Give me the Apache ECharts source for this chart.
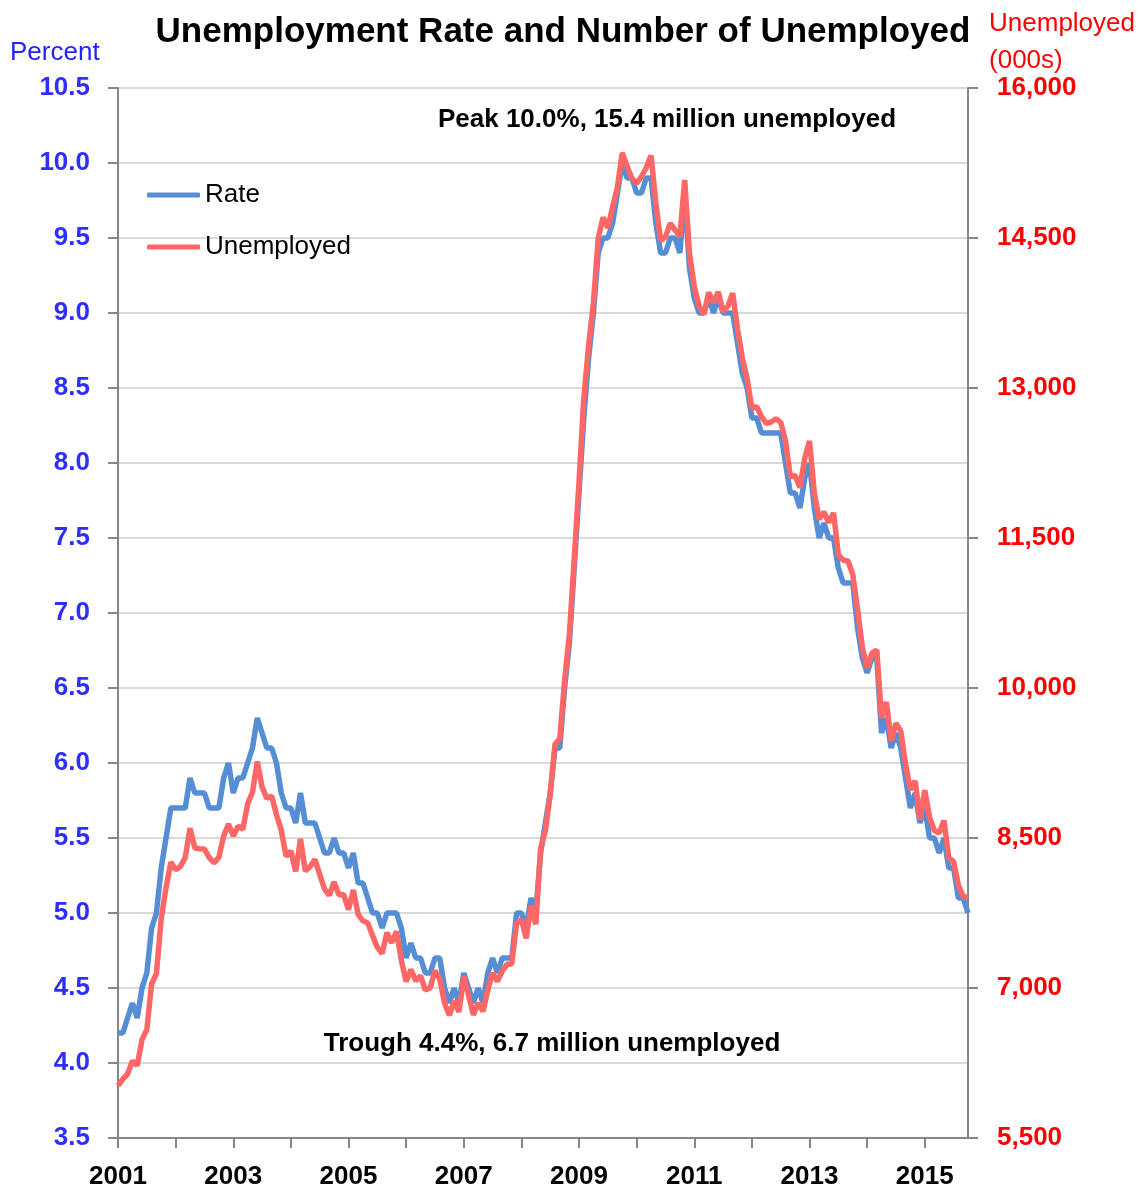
<!DOCTYPE html>
<html>
<head>
<meta charset="utf-8">
<title>Unemployment Rate and Number of Unemployed</title>
<script src="https://cdn.jsdelivr.net/npm/echarts@6/dist/echarts.min.js"></script>
<style>
  html, body { margin: 0; padding: 0; background: #fff; }
  #chart { width: 1139px; height: 1192px; }
</style>
</head>
<body>
<div id="chart"></div>
<script>
// monthly, Jan 2001 .. Oct 2015
const years = [2001, 2002, 2003, 2004, 2005, 2006, 2007, 2008, 2009, 2010, 2011, 2012, 2013, 2014, 2015];

// unemployment rate, percent
const rate = [
  4.2, 4.2, 4.3, 4.4, 4.3, 4.5, 4.6, 4.9, 5.0, 5.3, 5.5, 5.7,
  5.7, 5.7, 5.7, 5.9, 5.8, 5.8, 5.8, 5.7, 5.7, 5.7, 5.9, 6.0,
  5.8, 5.9, 5.9, 6.0, 6.1, 6.3, 6.2, 6.1, 6.1, 6.0, 5.8, 5.7,
  5.7, 5.6, 5.8, 5.6, 5.6, 5.6, 5.5, 5.4, 5.4, 5.5, 5.4, 5.4,
  5.3, 5.4, 5.2, 5.2, 5.1, 5.0, 5.0, 4.9, 5.0, 5.0, 5.0, 4.9,
  4.7, 4.8, 4.7, 4.7, 4.6, 4.6, 4.7, 4.7, 4.5, 4.4, 4.5, 4.4,
  4.6, 4.5, 4.4, 4.5, 4.4, 4.6, 4.7, 4.6, 4.7, 4.7, 4.7, 5.0,
  5.0, 4.9, 5.1, 5.0, 5.4, 5.6, 5.8, 6.1, 6.1, 6.5, 6.8, 7.3,
  7.8, 8.3, 8.7, 9.0, 9.4, 9.5, 9.5, 9.6, 9.8, 10.0, 9.9, 9.9,
  9.8, 9.8, 9.9, 9.9, 9.6, 9.4, 9.4, 9.5, 9.5, 9.4, 9.8, 9.3,
  9.1, 9.0, 9.0, 9.1, 9.0, 9.1, 9.0, 9.0, 9.0, 8.8, 8.6, 8.5,
  8.3, 8.3, 8.2, 8.2, 8.2, 8.2, 8.2, 8.0, 7.8, 7.8, 7.7, 7.9,
  8.0, 7.7, 7.5, 7.6, 7.5, 7.5, 7.3, 7.2, 7.2, 7.2, 6.9, 6.7,
  6.6, 6.7, 6.7, 6.2, 6.3, 6.1, 6.2, 6.1, 5.9, 5.7, 5.8, 5.6,
  5.7, 5.5, 5.5, 5.4, 5.5, 5.3, 5.3, 5.1, 5.1, 5.0
];

// number unemployed, thousands
const unemployed = [
  6023, 6089, 6141, 6271, 6226, 6484, 6583, 7042, 7142, 7694, 8003, 8258,
  8182, 8215, 8304, 8599, 8399, 8393, 8390, 8304, 8251, 8307, 8520, 8640,
  8520, 8618, 8588, 8842, 8957, 9266, 9011, 8896, 8921, 8732, 8576, 8317,
  8370, 8167, 8491, 8170, 8212, 8286, 8136, 7990, 7927, 8061, 7932, 7934,
  7784, 7980, 7737, 7672, 7651, 7524, 7406, 7345, 7553, 7453, 7566, 7279,
  7064, 7184, 7072, 7120, 6980, 7001, 7175, 7091, 6847, 6727, 6872, 6762,
  7116, 6927, 6731, 6850, 6766, 6979, 7149, 7067, 7170, 7237, 7240, 7645,
  7685, 7497, 7822, 7637, 8395, 8575, 8937, 9438, 9494, 10074, 10538, 11286,
  12058, 12898, 13426, 13853, 14499, 14707, 14601, 14814, 15009, 15352, 15219, 15098,
  15046, 15113, 15202, 15325, 14849, 14474, 14512, 14648, 14579, 14516, 15081, 14348,
  14013, 13820, 13737, 13957, 13855, 13962, 13763, 13818, 13948, 13594, 13302, 13093,
  12797, 12813, 12713, 12646, 12660, 12692, 12656, 12471, 12115, 12124, 12005, 12298,
  12471, 11950, 11689, 11760, 11654, 11751, 11335, 11279, 11270, 11136, 10787, 10404,
  10202, 10349, 10380, 9702, 9859, 9474, 9648, 9568, 9237, 8983, 9071, 8688,
  8979, 8705, 8575, 8549, 8674, 8299, 8266, 8029, 7915, 7908
];

// right axis tick labels
const rightTicks = [5500, 7000, 8500, 10000, 11500, 13000, 14500, 16000];

// category labels "2001-01" ...
const months = [];
years.forEach(y => {
  for (let m = 1; m <= 12; m++) months.push(y + '-' + (m < 10 ? '0' + m : m));
});
months.length = rate.length;

const font = '"Liberation Sans", Arial, sans-serif';
const blue = '#558ed5';
const red = '#ff6666';

const chart = echarts.init(document.getElementById('chart'));
chart.setOption({
  animation: false,
  backgroundColor: '#fff',
  textStyle: { fontFamily: font },
  grid: { left: 118, right: 171, top: 88, bottom: 54 },
  title: [
    {
      text: 'Unemployment Rate and Number of Unemployed',
      left: 558, top: 10, textAlign: 'center',
      textStyle: { fontFamily: font, fontSize: 35, fontWeight: 'bold', color: '#000' }
    },
    {
      text: 'Peak 10.0%, 15.4 million unemployed',
      left: 662, top: 102, textAlign: 'center',
      textStyle: { fontFamily: font, fontSize: 26, fontWeight: 'bold', color: '#000' }
    },
    {
      text: 'Trough 4.4%, 6.7 million unemployed',
      left: 547, top: 1026, textAlign: 'center',
      textStyle: { fontFamily: font, fontSize: 26, fontWeight: 'bold', color: '#000' }
    }
  ],
  graphic: [
    {
      type: 'text', left: 10, top: 40,
      style: { text: 'Percent', fill: '#2222ff', font: '26px ' + font }
    },
    {
      type: 'text', right: 4, top: 5,
      style: {
        text: 'Unemployed\n(000s)', fill: '#ff0000', font: '26px ' + font,
        align: 'center', lineHeight: 37
      }
    }
  ],
  legend: {
    orient: 'vertical',
    left: 147, top: 182,
    padding: 0,
    itemWidth: 53, itemHeight: 5,
    itemGap: 26,
    icon: 'roundRect',
    textStyle: { fontFamily: font, fontSize: 26, color: '#000' },
    data: ['Rate', 'Unemployed']
  },
  xAxis: {
    type: 'category',
    data: months,
    boundaryGap: false,
    axisLine: { lineStyle: { color: '#868686', width: 2 } },
    axisTick: { interval: 11, length: 10, lineStyle: { color: '#868686', width: 2 } },
    axisLabel: {
      interval: 23, margin: 26,
      fontFamily: font, fontSize: 26, fontWeight: 'bold', color: '#000',
      formatter: v => v.slice(0, 4)
    },
    splitLine: { show: false }
  },
  yAxis: [
    {
      type: 'value',
      min: 3.5, max: 10.5, interval: 0.5,
      axisLine: { show: true, lineStyle: { color: '#868686', width: 2 } },
      axisTick: { show: true, length: 10, lineStyle: { color: '#868686', width: 2 } },
      axisLabel: {
        margin: 28, fontFamily: font, fontSize: 26, fontWeight: 'bold', color: '#2e2eff',
        formatter: v => v.toFixed(1)
      },
      splitLine: { show: true, lineStyle: { color: '#d9d9d9', width: 2 } }
    },
    {
      type: 'value',
      min: 5500, max: 16000,
      position: 'right',
      axisLine: { show: true, lineStyle: { color: '#868686', width: 2 } },
      axisTick: { show: true, length: 10, customValues: rightTicks, lineStyle: { color: '#868686', width: 2 } },
      axisLabel: {
        margin: 29, customValues: rightTicks,
        fontFamily: font, fontSize: 26, fontWeight: 'bold', color: '#ff0000',
        formatter: v => v.toLocaleString('en-US')
      },
      splitLine: { show: false }
    }
  ],
  series: [
    {
      name: 'Rate', type: 'line', yAxisIndex: 0, data: rate,
      showSymbol: false, color: blue,
      lineStyle: { width: 5.5, color: blue }
    },
    {
      name: 'Unemployed', type: 'line', yAxisIndex: 1, data: unemployed,
      showSymbol: false, color: red,
      lineStyle: { width: 5.5, color: red }
    }
  ]
});
</script>
</body>
</html>
